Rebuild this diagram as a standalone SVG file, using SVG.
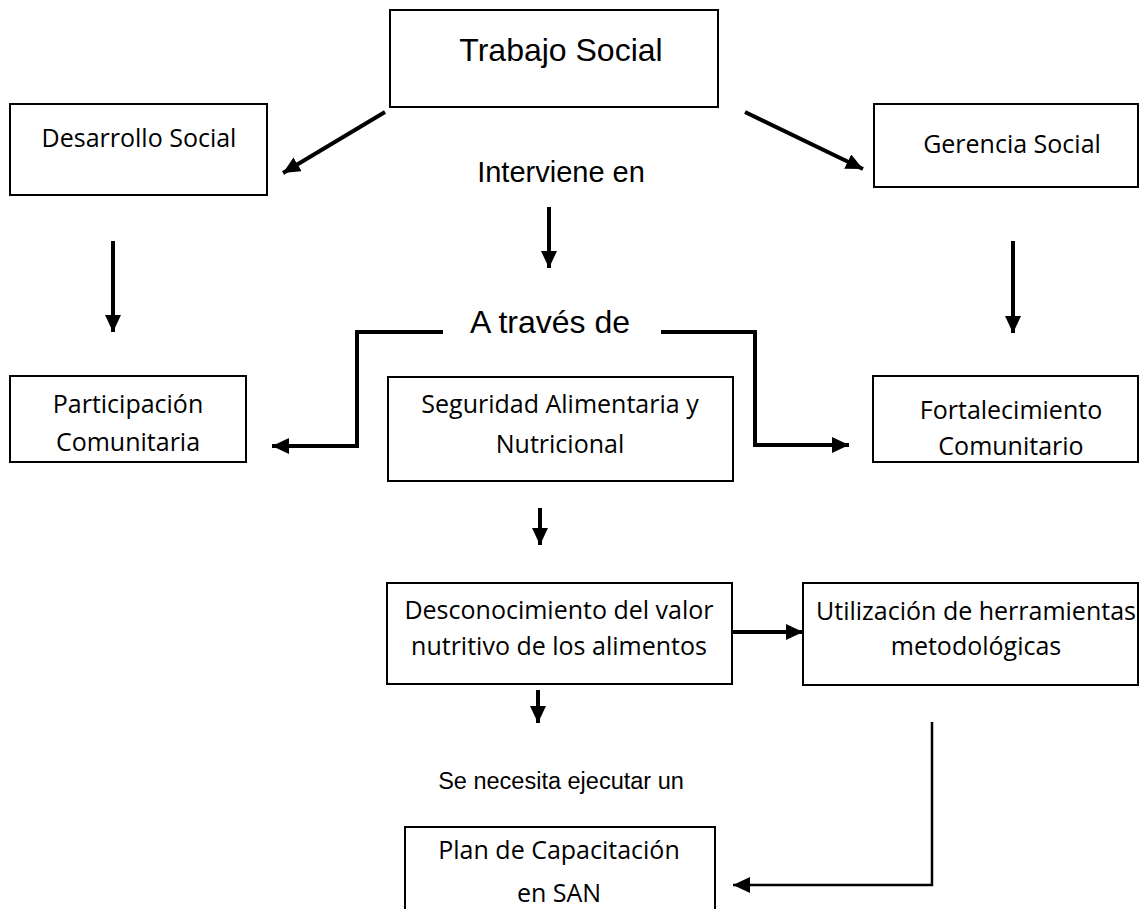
<svg xmlns="http://www.w3.org/2000/svg" width="1140" height="909" viewBox="0 0 1140 909">
<defs>
<marker id="ah" markerUnits="userSpaceOnUse" markerWidth="18" markerHeight="16" refX="17" refY="8" orient="auto">
<path d="M0,0 L17,8 L0,16 z" fill="#000"/>
</marker>
<style>
.box{fill:#fff;stroke:#000;stroke-width:2}
.ar{font-family:"Liberation Sans",Arial,sans-serif;fill:#000;text-anchor:middle}
.cb{font-family:"Open Sans","Noto Sans",sans-serif;font-size:25px;fill:#000;text-anchor:middle}
.ca{fill:none;stroke:#000;stroke-width:4;marker-end:url(#ah)}
</style>
</defs>
<rect width="1140" height="909" fill="#fff"/>
<g id="connectors">
<line class="ca" x1="385" y1="112" x2="283" y2="173"/>
<line class="ca" x1="745" y1="112" x2="863" y2="169"/>
<line class="ca" x1="549" y1="207" x2="549" y2="268"/>
<line class="ca" x1="113" y1="241" x2="113" y2="332"/>
<line class="ca" x1="1013" y1="241" x2="1013" y2="333"/>
<polyline class="ca" points="443,332 357,332 357,446 272,446"/>
<polyline class="ca" points="661,332 755,332 755,445 849,445"/>
<line class="ca" x1="540" y1="508" x2="540" y2="545"/>
<line class="ca" x1="732" y1="632" x2="803" y2="632"/>
<line class="ca" x1="538" y1="690" x2="538" y2="723"/>
<polyline class="ca" style="stroke-width:2.5" points="932,722 932,885 733,885"/>
</g>
<g id="trabajo-social">
<rect class="box" x="390" y="10" width="328" height="97"/>
<text class="ar" x="561" y="61" font-size="32">Trabajo Social</text>
</g>
<g id="desarrollo-social">
<rect class="box" x="10" y="104" width="257" height="91"/>
<text class="cb" x="139" y="147">Desarrollo Social</text>
</g>
<g id="gerencia-social">
<rect class="box" x="874" y="104" width="264" height="83"/>
<text class="cb" x="1012" y="153">Gerencia Social</text>
</g>
<g id="interviene-en">
<text class="ar" x="561" y="182" font-size="29">Interviene en</text>
</g>
<g id="a-traves-de">
<text class="ar" x="550" y="333" font-size="32">A través de</text>
</g>
<g id="participacion-comunitaria">
<rect class="box" x="10" y="376" width="236" height="86"/>
<text class="cb" x="128" y="413">Participación</text>
<text class="cb" x="128" y="451">Comunitaria</text>
</g>
<g id="seguridad-alimentaria">
<rect class="box" x="388" y="377" width="345" height="104"/>
<text class="cb" x="560" y="413">Seguridad Alimentaria y</text>
<text class="cb" x="560" y="453">Nutricional</text>
</g>
<g id="fortalecimiento-comunitario">
<rect class="box" x="873" y="376" width="265" height="86"/>
<text class="cb" x="1011" y="419">Fortalecimiento</text>
<text class="cb" x="1011" y="455">Comunitario</text>
</g>
<g id="desconocimiento">
<rect class="box" x="387" y="583" width="345" height="101"/>
<text class="cb" x="559" y="619">Desconocimiento del valor</text>
<text class="cb" x="559" y="655">nutritivo de los alimentos</text>
</g>
<g id="utilizacion">
<rect class="box" x="803" y="583" width="335" height="102"/>
<text class="cb" x="976" y="620">Utilización de herramientas</text>
<text class="cb" x="976" y="655">metodológicas</text>
</g>
<g id="se-necesita">
<text class="ar" x="561" y="789" font-size="23.5">Se necesita ejecutar un</text>
</g>
<g id="plan-capacitacion">
<rect class="box" x="405" y="827" width="310" height="90"/>
<text class="cb" x="559" y="859">Plan de Capacitación</text>
<text class="cb" x="559" y="902">en SAN</text>
</g>
</svg>
